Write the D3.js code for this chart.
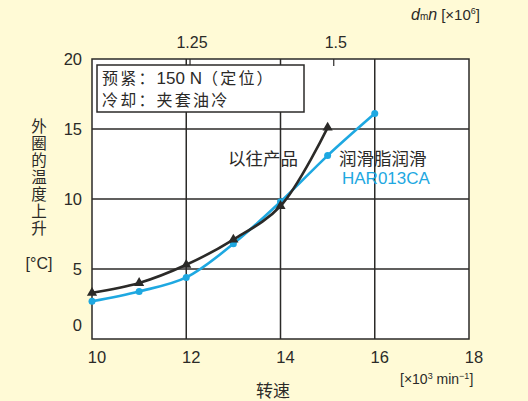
<!DOCTYPE html>
<html><head><meta charset="utf-8">
<script src="https://cdn.jsdelivr.net/npm/d3@7"></script>
<style>
html,body{margin:0;padding:0;background:#fffad6;}
svg{display:block;}
text{font-family:"Liberation Sans",Arial,"Noto Sans CJK SC",sans-serif;fill:#2b2a28;}
.cjk{font-family:"Noto Sans CJK SC",sans-serif;}
</style></head><body>
<svg id="c" width="528" height="401"></svg>
<script>
// ---- data ----
const speed = [10, 11, 12, 13, 14, 15, 16];             // x10^3 min^-1
const conventional = [3.3, 4.0, 5.3, 7.1, 9.5, 15.1];    // 以往产品 (speeds 10..15)
const har013ca = [2.7, 3.4, 4.4, 6.8, 9.8, 13.1, 16.1];  // 润滑脂润滑 HAR013CA (speeds 10..16)
const xTicks = [10, 12, 14, 16, 18];
const yTicks = [0, 5, 10, 15, 20];
const dmnTicks = [1.25, 1.5];
const dmnTickSpeed = [12.08, 15.13];
const yTitle = "外圈的温度上升";

const svg = d3.select("#c");
const x = d3.scaleLinear().domain([10, 18]).range([92, 469]);
const y = d3.scaleLinear().domain([0, 20]).range([339, 59]);
const xTop = d3.scaleLinear().domain(dmnTicks).range(dmnTickSpeed.map(x));
const ink = "#2b2a28", blue = "#1ea8e1";

// plot area
svg.append("rect").attr("x", x(10)).attr("y", y(20)).attr("width", x(18) - x(10)).attr("height", y(0) - y(20))
  .attr("fill", "#fff");

// grid
svg.append("g").selectAll("line").data(xTicks.slice(1, -1)).join("line")
  .attr("x1", d => x(d)).attr("x2", d => x(d)).attr("y1", y(0)).attr("y2", y(20))
  .attr("stroke", ink).attr("stroke-width", 1.5);
svg.append("g").selectAll("line").data(yTicks.slice(1, -1)).join("line")
  .attr("x1", x(10)).attr("x2", x(18)).attr("y1", d => y(d)).attr("y2", d => y(d))
  .attr("stroke", ink).attr("stroke-width", 1.5);

// top dmn ticks
svg.append("g").selectAll("line").data(dmnTicks).join("line")
  .attr("x1", d => xTop(d)).attr("x2", d => xTop(d)).attr("y1", y(20)).attr("y2", y(20) + 7)
  .attr("stroke", ink).attr("stroke-width", 1.2);
svg.append("g").selectAll("text").data(dmnTicks).join("text")
  .attr("x", d => xTop(d) + 2).attr("y", 48).attr("text-anchor", "middle")
  .attr("font-size", 16).text(d => d);
const dt = svg.append("text").attr("x", 411).attr("y", 20).attr("font-size", 15);
dt.append("tspan").attr("font-style", "italic").attr("font-size", 16).text("d");
dt.append("tspan").attr("font-size", 10).text("m");
dt.append("tspan").attr("font-style", "italic").attr("font-size", 16).text("n");
dt.append("tspan").attr("dx", 4).text("[×10");
dt.append("tspan").attr("font-size", 9).attr("dy", -6).text("6");
dt.append("tspan").attr("dy", 6).text("]");

// frame
svg.append("rect").attr("x", x(10)).attr("y", y(20)).attr("width", x(18) - x(10)).attr("height", y(0) - y(20))
  .attr("fill", "none").attr("stroke", ink).attr("stroke-width", 1.5);

// legend box
svg.append("rect").attr("x", 97).attr("y", 65).attr("width", 207).attr("height", 47)
  .attr("fill", "#fff").attr("stroke", ink).attr("stroke-width", 1.5);
const l1 = svg.append("text").attr("class", "cjk").attr("x", 102).attr("y", 84).attr("font-size", 16);
l1.append("tspan").attr("letter-spacing", 2.2).text("预紧：");
l1.append("tspan").style("font-family", "'Liberation Sans',Arial,sans-serif").attr("font-size", 17).text("150 N");
l1.append("tspan").attr("letter-spacing", 2.2).text("（定位）");
svg.append("text").attr("class", "cjk").attr("x", 102).attr("y", 106).attr("font-size", 16)
  .attr("letter-spacing", 2.2).text("冷却：夹套油冷");

// axis labels
svg.append("g").selectAll("text").data(xTicks).join("text")
  .attr("x", d => x(d) + 5).attr("y", 363).attr("text-anchor", "middle").attr("font-size", 16.5).text(d => d);
svg.append("g").selectAll("text").data(yTicks).join("text")
  .attr("x", 82).attr("y", d => y(d) + 6 - (d === 0 ? 14 : 0)).attr("text-anchor", "end").attr("font-size", 16.5).text(d => d);

const xu = svg.append("text").attr("x", 400).attr("y", 384).attr("font-size", 14);
xu.append("tspan").text("[×10");
xu.append("tspan").attr("font-size", 9).attr("dy", -5).text("3");
xu.append("tspan").attr("dy", 5).text(" min");
xu.append("tspan").attr("font-size", 9).attr("dy", -5).text("−1");
xu.append("tspan").attr("dy", 5).text("]");
svg.append("text").attr("class", "cjk").attr("x", 273).attr("y", 397).attr("text-anchor", "middle").attr("font-size", 17).text("转速");

svg.append("text").attr("class", "cjk").attr("x", 39).attr("y", 118)
  .attr("writing-mode", "vertical-rl").style("writing-mode", "vertical-rl")
  .attr("font-size", 15.5).attr("letter-spacing", 1.5).text(yTitle);
svg.append("text").attr("x", 39).attr("y", 269).attr("text-anchor", "middle").attr("font-size", 16).text("[°C]");

// series
const line = d3.line().x(d => x(d[0])).y(d => y(d[1])).curve(d3.curveCatmullRom.alpha(0.5));
const sBlack = conventional.map((v, i) => [speed[i], v]);
const sBlue = har013ca.map((v, i) => [speed[i], v]);

svg.append("path").attr("d", line(sBlue)).attr("fill", "none").attr("stroke", blue).attr("stroke-width", 2.6);
svg.append("g").selectAll("circle").data(sBlue).join("circle")
  .attr("cx", d => x(d[0])).attr("cy", d => y(d[1])).attr("r", 3.5).attr("fill", blue);

svg.append("path").attr("d", line(sBlack)).attr("fill", "none").attr("stroke", ink).attr("stroke-width", 2.6);
svg.append("g").selectAll("path").data(sBlack).join("path")
  .attr("transform", d => `translate(${x(d[0])},${y(d[1])})`)
  .attr("d", d3.symbol(d3.symbolTriangle, 45)).attr("fill", ink);

// series labels
svg.append("text").attr("class", "cjk").attr("x", 228).attr("y", 165).attr("font-size", 17.5).text("以往产品");
svg.append("text").attr("class", "cjk").attr("x", 339).attr("y", 165).attr("font-size", 17.5).text("润滑脂润滑");
svg.append("text").attr("x", 342).attr("y", 184).attr("font-size", 17).style("fill", blue).text("HAR013CA");
</script></body></html>
